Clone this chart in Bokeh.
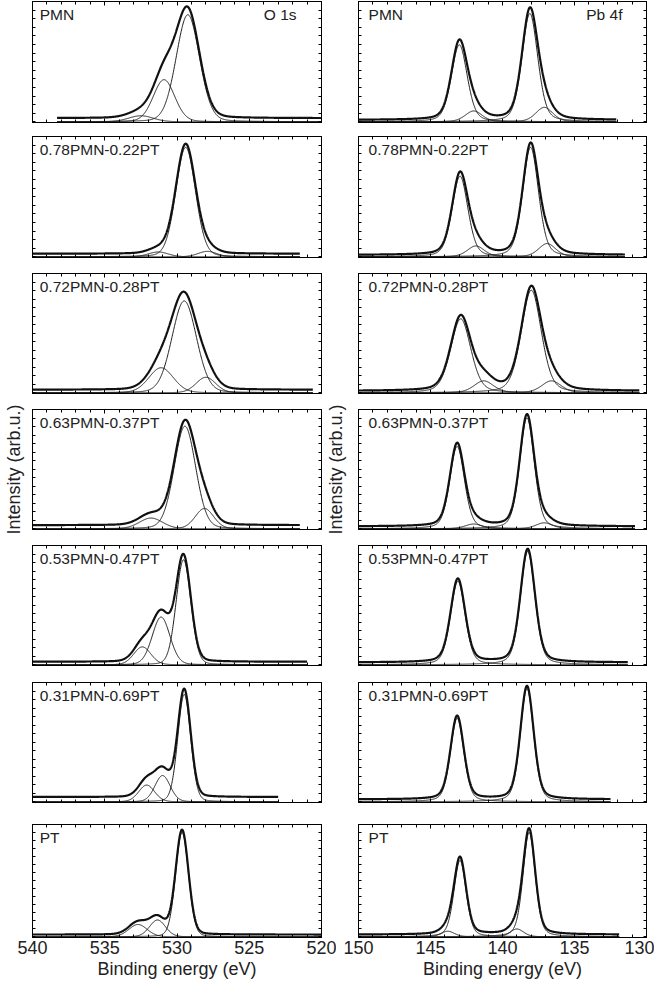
import numpy as np
from bokeh.plotting import figure
from bokeh.layouts import column, row
from bokeh.models import (Range1d, LinearAxis, SingleIntervalTicker, FixedTicker,
                          CustomJSTickFormatter, Label)
from bokeh.embed import file_html
from bokeh.resources import INLINE

# ---------------- data ----------------
samples = ["PMN", "0.78PMN-0.22PT", "0.72PMN-0.28PT", "0.63PMN-0.37PT",
           "0.53PMN-0.47PT", "0.31PMN-0.69PT", "PT"]

# O 1s fitted components: centre (eV), height (% of panel), FWHM (eV)
o1s_centers = [[529.25, 530.9, 532.5],
               [529.4, 531.3, 527.9],
               [529.5, 531.1, 528.0],
               [529.45, 531.8, 528.1],
               [529.55, 531.1, 532.4],
               [529.5, 531.0, 532.1],
               [529.65, 531.35, 532.7]]
o1s_heights = [[89, 35, 5],
               [91, 4, 4.5],
               [77, 21, 13],
               [86, 9, 17],
               [88, 40, 15],
               [90, 22, 14],
               [93, 15, 11]]
o1s_fwhm = [[1.9, 1.75, 2.0],
            [1.6, 1.6, 1.5],
            [2.0, 2.0, 1.6],
            [1.75, 1.9, 1.5],
            [1.2, 1.45, 1.4],
            [1.05, 1.25, 1.3],
            [1.05, 1.3, 1.5]]
o1s_background = [3, 2.5, 2.5, 3, 2.5, 4, 2]
o1s_scan_start = [538.3, 540, 540, 540, 540, 540, 540]
o1s_scan_end = [520, 521.5, 520.6, 521.5, 521.0, 523.0, 520]

# Pb 4f fitted components: [4f7/2 main, 4f5/2 main, 4f7/2 minor, 4f5/2 minor]
pb4f_centers = [[138.1, 143.0, 137.1, 142.0],
                [138.05, 142.95, 136.9, 141.85],
                [138.0, 142.9, 136.6, 141.3],
                [138.3, 143.15, 137.1, 142.0],
                [138.25, 143.1],
                [138.3, 143.15],
                [138.15, 142.95, 139.0, 143.8]]
pb4f_heights = [[90, 64, 12, 9],
                [91, 67, 11, 9],
                [86, 62, 10, 10],
                [93, 69, 5, 4],
                [95, 70],
                [95, 70],
                [93, 68, 7, 5]]
pb4f_fwhm = [[1.3, 1.3, 1.4, 1.4],
             [1.3, 1.3, 1.4, 1.4],
             [1.65, 1.65, 1.6, 1.6],
             [1.2, 1.2, 1.4, 1.4],
             [1.2, 1.2],
             [1.1, 1.1],
             [1.0, 1.0, 1.1, 1.1]]
pb4f_background = [1.5, 1.5, 1.5, 2, 2, 2, 2]
pb4f_scan_start = [150, 150, 150, 150, 150, 150, 150]
pb4f_scan_end = [132.1, 131.5, 130.5, 130.8, 131.3, 132.5, 131.9]

o1s_xlim = (540, 520)
pb4f_xlim = (150, 130)
x_tick_labels_step = 5

# ---------------- layout / style ----------------
FONT = "Liberation Sans"
frame_tops = [9, 144, 281, 417, 553, 690, 832]
frame_bots = [130, 265, 401, 537, 673, 810, 945]
fig_starts = [8, 137, 273, 409, 545, 681, 821, 993]


def peak(x, c, h, w, eta):
    d = (x - c) / w
    return h * ((1 - eta) * np.exp(-4 * np.log(2) * d * d) + eta / (1 + 4 * d * d))


def hide_labels(ax):
    ax.major_label_text_font_size = "0px"
    ax.major_label_standoff = 0
    ax.formatter = CustomJSTickFormatter(code="return ''")


def style_axis(ax, ticker, major_in, minor_in):
    ax.ticker = ticker
    ax.major_tick_in = major_in
    ax.major_tick_out = 0
    ax.minor_tick_in = minor_in
    ax.minor_tick_out = 0
    ax.axis_line_color = "black"
    ax.major_tick_line_color = "black"
    ax.minor_tick_line_color = "black"
    ax.major_label_text_font = FONT
    ax.major_label_text_color = "#222222"


def make_panel(k, xlim, w, mbl, mbr, is_bottom, ylabel_standoff=None):
    top, bot = frame_tops[k], frame_bots[k]
    s0, s1 = fig_starts[k], fig_starts[k + 1]
    p = figure(width=w, height=s1 - s0, x_range=Range1d(*xlim), y_range=Range1d(-0.6, 100),
               output_backend="svg", toolbar_location=None, min_border=0)
    p.min_border_left = mbl
    p.min_border_right = mbr
    p.min_border_top = top - s0
    p.min_border_bottom = s1 - bot
    p.grid.visible = False
    p.outline_line_color = "black"
    p.outline_line_width = 1
    p.background_fill_color = "white"
    p.border_fill_color = "white"

    xt = lambda: SingleIntervalTicker(interval=x_tick_labels_step, num_minor_ticks=5)
    yt = lambda: FixedTicker(ticks=list(np.arange(0, 100.1, 100 / 14)), minor_ticks=[])

    xb = p.xaxis[0]
    style_axis(xb, xt(), 4, 3)
    if is_bottom:
        xb.major_label_text_font_size = "18px"
        xb.major_label_standoff = 3
        xb.axis_label = "Binding energy (eV)"
        xb.axis_label_text_font = FONT
        xb.axis_label_text_font_size = "18px"
        xb.axis_label_text_font_style = "normal"
        xb.axis_label_text_color = "#222222"
        xb.axis_label_standoff = 2
    else:
        hide_labels(xb)

    xa = LinearAxis()
    style_axis(xa, xt(), 4, 3)
    hide_labels(xa)
    p.add_layout(xa, "above")

    yl = p.yaxis[0]
    style_axis(yl, yt(), 3, 0)
    hide_labels(yl)
    if ylabel_standoff is not None:
        yl.axis_label = "Intensity (arb.u.)"
        yl.axis_label_text_font = FONT
        yl.axis_label_text_font_size = "18px"
        yl.axis_label_text_font_style = "normal"
        yl.axis_label_text_color = "#222222"
        yl.axis_label_standoff = ylabel_standoff

    yr = LinearAxis()
    style_axis(yr, yt(), 3, 0)
    hide_labels(yr)
    p.add_layout(yr, "right")
    return p


rows = []
for k in range(7):
    fh = frame_bots[k] - frame_tops[k]
    label_y = 100 - 13 / fh * 100
    if k == 3:
        wl, mbrl, mblr, wr = 322, 1, 36, 332
        sl, sr = 9, 13
    else:
        wl, mbrl, mblr, wr = 336, 15, 22, 318
        sl, sr = None, None
    is_bottom = (k == 6)

    # ---- O 1s ----
    pl = make_panel(k, o1s_xlim, wl, 32, mbrl, is_bottom, sl)
    x = np.linspace(o1s_scan_start[k], o1s_scan_end[k], 900)
    total = np.full_like(x, o1s_background[k], dtype=float)
    for c, h, w in zip(o1s_centers[k], o1s_heights[k], o1s_fwhm[k]):
        comp = peak(x, c, h, w, 0.12)
        total += comp
        pl.line(x, comp, line_color="#1e1e1e", line_width=1)
    pl.line(x, total, line_color="#111111", line_width=2.2)
    pl.add_layout(Label(x=539.5, y=label_y, text=samples[k], text_font=FONT,
                        text_font_size="15.5px", text_baseline="middle", text_align="left",
                        text_color="#222222"))
    if k == 0:
        pl.add_layout(Label(x=521.73, y=label_y, text="O 1s", text_font=FONT,
                            text_font_size="15.5px", text_baseline="middle", text_align="right",
                            text_color="#222222"))

    # ---- Pb 4f ----
    pr = make_panel(k, pb4f_xlim, wr, mblr, 8, is_bottom, sr)
    x = np.linspace(pb4f_scan_start[k], pb4f_scan_end[k], 900)
    total = np.full_like(x, pb4f_background[k], dtype=float)
    for c, h, w in zip(pb4f_centers[k], pb4f_heights[k], pb4f_fwhm[k]):
        comp = peak(x, c, h, w, 0.3)
        total += comp
        pr.line(x, comp, line_color="#1e1e1e", line_width=1)
    pr.line(x, total, line_color="#111111", line_width=2.2)
    pr.add_layout(Label(x=149.3, y=label_y, text=samples[k], text_font=FONT,
                        text_font_size="15.5px", text_baseline="middle", text_align="left",
                        text_color="#222222"))
    if k == 0:
        pr.add_layout(Label(x=131.67, y=label_y, text="Pb 4f", text_font=FONT,
                            text_font_size="15.5px", text_baseline="middle", text_align="right",
                            text_color="#222222"))
    rows.append(row(pl, pr))

layout = column(*rows)
open("out.html", "w").write(file_html(layout, INLINE))
